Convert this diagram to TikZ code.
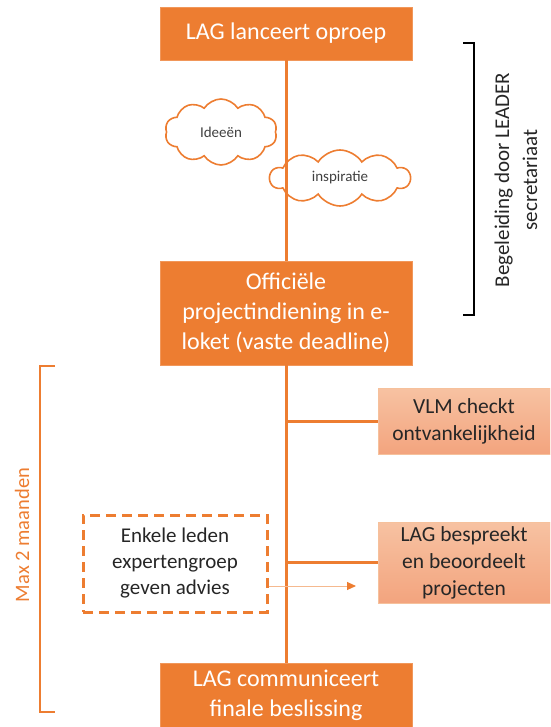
\documentclass[tikz,border=0pt]{standalone}
\usepackage{fontspec}
\setmainfont{Carlito}
\usetikzlibrary{shapes.symbols,arrows.meta}
\definecolor{org}{HTML}{ED7D31}
\definecolor{lighttop}{HTML}{F7C2A2}
\definecolor{lightbot}{HTML}{F3A47E}
\definecolor{lightorg}{HTML}{F4B183}
\definecolor{darktxt}{HTML}{262626}
\tikzset{
  bigbox/.style={fill=org, draw=org!80!white, line width=0.6pt, text=white, align=center, inner sep=2pt,
    minimum width=252pt, font=\fontsize{24}{30}\selectfont},
  lightbox/.style={top color=lighttop, bottom color=lightbot, draw=lightorg!80!white, line width=0.6pt,
    text=darktxt, align=center, minimum width=172pt, inner sep=2pt, font=\fontsize{21.5}{27}\selectfont},
  cloudbox/.style={cloud, cloud puffs=10, cloud puff arc=115, cloud ignores aspect, draw=org, line width=1.6pt, text=black!75,
    font=\fontsize{15}{17}\selectfont, inner sep=0pt},
  mainline/.style={draw=org, line width=3pt},
  dashbox/.style={draw=org, dashed, dash pattern=on 10pt off 6pt, line width=3pt, text=darktxt, align=center,
    minimum width=184pt, minimum height=97pt, font=\fontsize{21}{26}\selectfont},
}
\begin{document}
\begin{tikzpicture}[x=1pt,y=-1pt]
\useasboundingbox (0,0) rectangle (550,727);
\clip (0,0) rectangle (550,727);
% clouds
\node[cloudbox, minimum width=112pt, minimum height=66pt] (c1) at (221,132) {Ideeën};
\node[cloudbox, minimum width=140pt, minimum height=56pt] (c2) at (340,178) {inspiratie};
% main boxes
\node[bigbox, minimum height=53pt] (top) at (286,33.5) {LAG lanceert oproep};
\node[bigbox, minimum height=104pt] (sub) at (286,313) {Officiële\\projectindiening in e-\\loket (vaste deadline)};
\node[bigbox, minimum height=64pt, anchor=north] (fin) at (286,663) {LAG communiceert\\finale beslissing};
% side boxes
\node[lightbox, minimum height=66pt] (vlm) at (464,421) {VLM checkt\\ontvankelijkheid};
\node[lightbox, minimum height=81pt] (bes) at (464,562.5) {LAG bespreekt\\en beoordeelt\\projecten};
\node[dashbox] (exp) at (175,563.5) {Enkele leden\\expertengroep\\geven advies};
% connectors
\draw[mainline] (top.south) -- (sub.north);
\draw[mainline] (sub.south) -- (fin.north);
\draw[mainline] (vlm.west) -- (vlm.west -| sub.south);
\draw[mainline] (bes.west) -- (bes.west -| sub.south);
\coordinate (arrE) at (356,586);
\draw[draw=lightorg!90!white, line width=1pt, -{Triangle[length=9pt,width=8pt,fill=org,color=org]}] (exp.east |- arrE) -- (arrE);
% brackets
\coordinate (rb1) at (463,43);
\coordinate (rb2) at (463,315);
\draw[line width=2pt, black] (rb1) -- ++(11,0) -- (474,315) -- (rb2);
\node[rotate=90, align=center, text=darktxt, font=\fontsize{21}{28}\selectfont] (lab1) at (516,180) {Begeleiding door LEADER\\secretariaat};
\coordinate (lb1) at (55,366);
\coordinate (lb2) at (55,712);
\draw[line width=2pt, org] (lb1) -- (40,366) -- (40,712) -- (lb2);
\node[rotate=90, text=org, font=\fontsize{20.5}{24}\selectfont] (lab2) at (22,535) {Max 2 maanden};
\end{tikzpicture}
\end{document}
